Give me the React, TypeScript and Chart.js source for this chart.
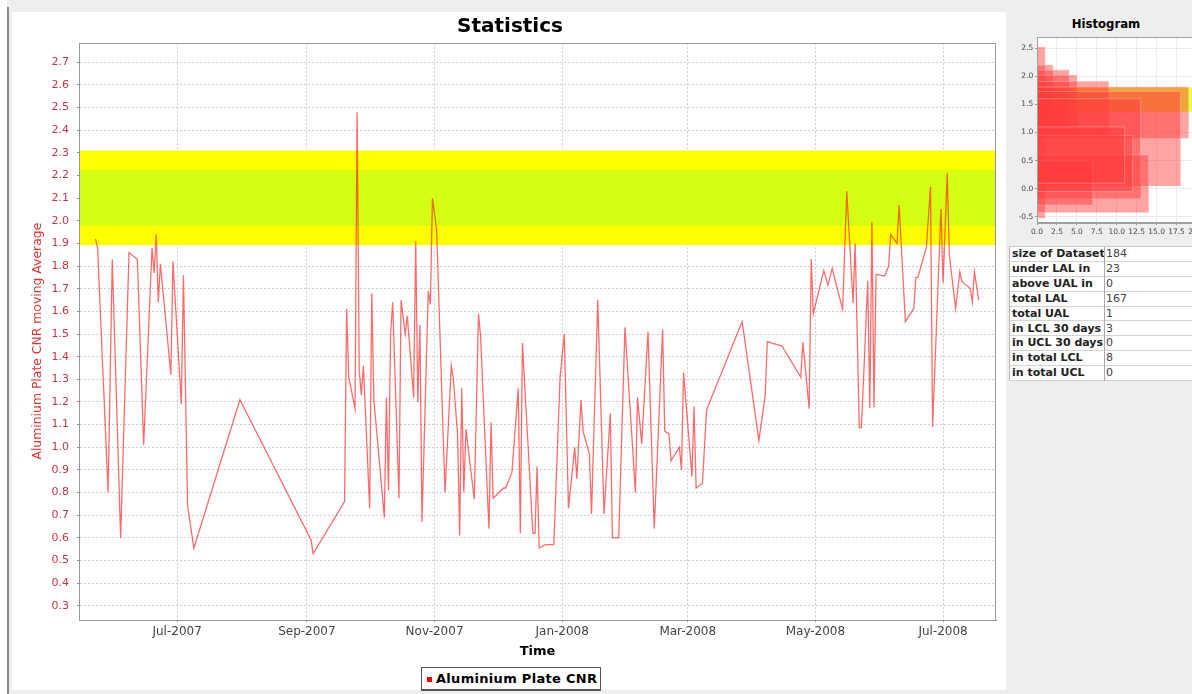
import React, { useEffect, useRef } from "react";
import { Chart, registerables } from "chart.js";
Chart.register(...registerables);

const FONT = "DejaVu Sans";

// ---- main series ----
const DATES = [
  "2007-05-23", "2007-05-24", "2007-05-29", "2007-05-31", "2007-06-04", "2007-06-08", "2007-06-12", "2007-06-15",
  "2007-06-19", "2007-06-20", "2007-06-21", "2007-06-22", "2007-06-23", "2007-06-28", "2007-06-29", "2007-07-03",
  "2007-07-04", "2007-07-06", "2007-07-09", "2007-07-31", "2007-09-03", "2007-09-04", "2007-09-19", "2007-09-20",
  "2007-09-21", "2007-09-24", "2007-09-25", "2007-09-26", "2007-09-27", "2007-09-28", "2007-10-01", "2007-10-02",
  "2007-10-03", "2007-10-08", "2007-10-09", "2007-10-10", "2007-10-11", "2007-10-12", "2007-10-15", "2007-10-16",
  "2007-10-18", "2007-10-19", "2007-10-22", "2007-10-23", "2007-10-24", "2007-10-25", "2007-10-26", "2007-10-29",
  "2007-10-30", "2007-10-31", "2007-11-02", "2007-11-06", "2007-11-09", "2007-11-10", "2007-11-12", "2007-11-13",
  "2007-11-14", "2007-11-15", "2007-11-16", "2007-11-20", "2007-11-22", "2007-11-23", "2007-11-27", "2007-11-28",
  "2007-11-29", "2007-12-04", "2007-12-05", "2007-12-08", "2007-12-11", "2007-12-12", "2007-12-13", "2007-12-18",
  "2007-12-19", "2007-12-20", "2007-12-21", "2007-12-24", "2007-12-28", "2007-12-31", "2008-01-02", "2008-01-04",
  "2008-01-07", "2008-01-08", "2008-01-10", "2008-01-11", "2008-01-14", "2008-01-15", "2008-01-18", "2008-01-21",
  "2008-01-24", "2008-01-25", "2008-01-28", "2008-01-31", "2008-02-05", "2008-02-06", "2008-02-08", "2008-02-11",
  "2008-02-14", "2008-02-18", "2008-02-19", "2008-02-21", "2008-02-22", "2008-02-26", "2008-02-27", "2008-02-28",
  "2008-03-03", "2008-03-04", "2008-03-05", "2008-03-08", "2008-03-10", "2008-03-27", "2008-04-04", "2008-04-07",
  "2008-04-08", "2008-04-15", "2008-04-24", "2008-04-25", "2008-04-28", "2008-04-29", "2008-04-30", "2008-05-05",
  "2008-05-07", "2008-05-09", "2008-05-14", "2008-05-16", "2008-05-19", "2008-05-20", "2008-05-22", "2008-05-23",
  "2008-05-26", "2008-05-27", "2008-05-28", "2008-05-29", "2008-05-30", "2008-06-03", "2008-06-05", "2008-06-06",
  "2008-06-09", "2008-06-10", "2008-06-13", "2008-06-17", "2008-06-18", "2008-06-19", "2008-06-23", "2008-06-25",
  "2008-06-26", "2008-06-30", "2008-07-01", "2008-07-03", "2008-07-04", "2008-07-07", "2008-07-09", "2008-07-10",
  "2008-07-14", "2008-07-15", "2008-07-16", "2008-07-18",
];

const VALUES = [
  1.92, 1.88, 0.80, 1.83, 0.60, 1.86, 1.83, 1.01,
  1.88, 1.77, 1.94, 1.64, 1.81, 1.32, 1.82, 1.19,
  1.76, 0.74, 0.555, 1.21, 0.59, 0.53, 0.76, 1.61,
  1.31, 1.17, 2.48, 1.34, 1.23, 1.36, 0.73, 1.68,
  1.21, 0.69, 1.22, 0.81, 1.50, 1.64, 0.775, 1.65,
  1.50, 1.58, 1.22, 1.91, 1.20, 1.54, 0.67, 1.69,
  1.63, 2.10, 1.96, 0.80, 1.36, 1.30, 1.06, 0.61,
  1.26, 0.80, 1.08, 0.77, 1.59, 1.49, 0.64, 1.11,
  0.775, 0.82, 0.82, 0.89, 1.26, 0.62, 1.46, 0.62,
  0.62, 0.915, 0.555, 0.57, 0.57, 1.31, 1.50, 0.73,
  1.00, 0.86, 1.21, 1.07, 0.97, 0.705, 1.65, 0.705,
  1.15, 0.60, 0.60, 1.53, 0.80, 1.22, 1.015, 1.51,
  0.64, 1.52, 1.07, 1.06, 0.94, 1.00, 0.90, 1.33,
  0.87, 1.18, 0.82, 0.84, 1.165, 1.555, 1.03, 1.23,
  1.466, 1.447, 1.31, 1.464, 1.17, 1.83, 1.59, 1.78,
  1.716, 1.79, 1.61, 2.13, 1.636, 1.90, 1.087, 1.087,
  1.735, 1.172, 1.994, 1.177, 1.764, 1.756, 1.80, 1.94,
  1.90, 2.07, 1.555, 1.613, 1.75, 1.75, 1.883, 2.15,
  1.089, 2.052, 1.726, 2.212, 1.849, 1.612, 1.775, 1.731,
  1.702, 1.643, 1.775, 1.65,
];

const SERIES_LABEL = "Aluminium Plate CNR";
const Y_TITLE = "Aluminium Plate CNR moving Average";
const X_RANGE = ["2007-05-15", "2008-07-26"];
const X_TICK_DATES = ["2007-07-01", "2007-09-01", "2007-11-01", "2008-01-01", "2008-03-01", "2008-05-01", "2008-07-01"];
const MONTHS = ["Jan", "Feb", "Mar", "Apr", "May", "Jun", "Jul", "Aug", "Sep", "Oct", "Nov", "Dec"];
const Y_RANGE = [0.237, 2.784];
const Y_TICKS = [0.3, 0.4, 0.5, 0.6, 0.7, 0.8, 0.9, 1.0, 1.1, 1.2, 1.3, 1.4, 1.5, 1.6, 1.7, 1.8, 1.9, 2.0, 2.1, 2.2, 2.3, 2.4, 2.5, 2.6, 2.7];
const OUTER_BAND = [1.893, 2.31];
const INNER_BAND = [1.977, 2.224];

// ---- histogram ----
const HIST_LOW = [1.37, -0.52, 1.22, 1.1, 1.0, 0.91, 0.9, 0.05, -0.17, -0.42, -0.29, -0.05, 0.1];
const HIST_HIGH = [1.8, 2.52, 2.2, 2.11, 2.02, 1.91, 1.81, 1.73, 1.6, 0.6, 0.5, 0.95, 1.1];
const HIST_COUNT = [22, 1, 2, 4, 5, 9, 19, 18, 13, 14, 7, 12, 11];
const HIST_X_RANGE = [0, 20.5];
const HIST_Y_RANGE = [-0.61, 2.695];
const HIST_X_TICKS = [0, 2.5, 5, 7.5, 10, 12.5, 15, 17.5, 20];
const HIST_Y_TICKS = [-0.5, 0, 0.5, 1.0, 1.5, 2.0, 2.5];

// ---- statistics table ----
const TABLE_LABELS = ["size of Dataset", "under LAL in", "above UAL in", "total LAL", "total UAL", "in LCL 30 days", "in UCL 30 days", "in total LCL", "in total UCL"];
const TABLE_VALUES = ["184", "23", "0", "167", "1", "3", "0", "8", "0"];

const EPOCH = Date.UTC(2007, 6, 1);
const dayOf = (s: string) => {
  const [y, m, d] = s.split("-").map(Number);
  return (Date.UTC(y, m - 1, d) - EPOCH) / 86400000;
};
const monthLabel = (day: number) => {
  const dt = new Date(EPOCH + day * 86400000);
  return `${MONTHS[dt.getUTCMonth()]}-${dt.getUTCFullYear()}`;
};

const mainPlugin = {
  id: "bandsOutline",
  beforeDatasetsDraw(chart: any) {
    const { ctx, chartArea: a, scales } = chart;
    const y = scales.y;
    ctx.save();
    const band = (lo: number, hi: number, col: string) => {
      const t = y.getPixelForValue(hi);
      const b = y.getPixelForValue(lo);
      ctx.fillStyle = col;
      ctx.fillRect(a.left, t, a.right - a.left, b - t);
    };
    band(OUTER_BAND[0], OUTER_BAND[1], "#ffff00");
    band(INNER_BAND[0], INNER_BAND[1], "#d4ff14");
    ctx.restore();
  },
  afterDraw(chart: any) {
    const { ctx, chartArea: a } = chart;
    ctx.save();
    ctx.strokeStyle = "#9a9a9a";
    ctx.lineWidth = 1;
    ctx.strokeRect(Math.round(a.left) + 0.5, Math.round(a.top) + 0.5, Math.round(a.right - a.left) - 1, Math.round(a.bottom - a.top));
    // y-axis title
    ctx.translate(28, (a.top + a.bottom) / 2 + 9.5);
    ctx.rotate(-Math.PI / 2);
    ctx.fillStyle = "#e03535";
    ctx.font = `12.4px ${FONT}`;
    ctx.textAlign = "center";
    ctx.textBaseline = "middle";
    ctx.fillText(Y_TITLE, 0, 0);
    ctx.restore();
  },
};

const histPlugin = {
  id: "histRects",
  beforeDraw(chart: any) {
    const { ctx, chartArea: a } = chart;
    ctx.save();
    ctx.fillStyle = "#ffffff";
    ctx.fillRect(a.left, a.top, a.right - a.left, a.bottom - a.top);
    ctx.restore();
  },
  beforeDatasetsDraw(chart: any) {
    const { ctx, chartArea: a, scales } = chart;
    const x = scales.x;
    const y = scales.y;
    ctx.save();
    ctx.beginPath();
    ctx.rect(a.left, a.top, a.right - a.left, a.bottom - a.top);
    ctx.clip();
    HIST_COUNT.forEach((c, i) => {
      const x0 = x.getPixelForValue(0);
      const x1 = x.getPixelForValue(c);
      const t = y.getPixelForValue(HIST_HIGH[i]);
      const b = y.getPixelForValue(HIST_LOW[i]);
      ctx.fillStyle = i === 0 ? "rgba(225,255,40,0.9)" : "rgba(255,60,60,0.47)";
      ctx.fillRect(x0, t, x1 - x0, b - t);
      if (i > 0) {
        ctx.strokeStyle = "rgba(255,190,190,0.5)";
        ctx.lineWidth = 0.8;
        ctx.strokeRect(x0, t, x1 - x0, b - t);
      }
    });
    ctx.restore();
  },
  afterDraw(chart: any) {
    const { ctx, chartArea: a } = chart;
    ctx.save();
    ctx.strokeStyle = "#a0a0a0";
    ctx.lineWidth = 1;
    ctx.strokeRect(Math.round(a.left) + 0.5, Math.round(a.top) + 0.5, Math.round(a.right - a.left), Math.round(a.bottom - a.top) - 1);
    ctx.restore();
  },
};

function MainChart() {
  const ref = useRef<HTMLCanvasElement>(null);
  useEffect(() => {
    if (!ref.current) return;
    const chart = new Chart(ref.current, {
      type: "line",
      data: {
        datasets: [
          {
            label: SERIES_LABEL,
            data: DATES.map((d, i) => ({ x: dayOf(d), y: VALUES[i] })),
            borderColor: "rgba(255,0,0,0.58)",
            borderWidth: 1.3,
            pointRadius: 0,
            tension: 0,
            fill: false,
          },
        ],
      },
      options: {
        animation: false,
        responsive: false,
        maintainAspectRatio: false,
        events: [],
        layout: { padding: { left: 14, right: 10, top: 0, bottom: 22 } },
        plugins: {
          legend: { display: false },
          tooltip: { enabled: false },
          title: {
            display: true,
            text: "Statistics",
            color: "#000",
            font: { family: FONT, size: 20, weight: "bold" },
            padding: { top: 3, bottom: 4.3 },
          },
        },
        scales: {
          x: {
            type: "linear",
            min: dayOf(X_RANGE[0]) + 0.1,
            max: dayOf(X_RANGE[1]) + 0.3,
            afterBuildTicks: (s: any) => {
              s.ticks = X_TICK_DATES.map((d) => ({ value: dayOf(d) }));
            },
            afterFit: (s: any) => {
              s.height = 48;
            },
            ticks: {
              autoSkip: false,
              maxRotation: 0,
              color: "#444",
              padding: 2.5,
              font: { family: FONT, size: 12 },
              callback: (v: any) => monthLabel(Number(v)),
            },
            grid: { color: "#cfcfcf", lineWidth: 1, tickLength: 2, tickColor: "#888" },
            border: { color: "#888", width: 1, dash: [2, 2] },
            title: {
              display: true,
              text: "Time",
              color: "#000",
              font: { family: FONT, size: 13, weight: "bold" },
              padding: { top: 0, bottom: 9 },
            },
          },
          y: {
            type: "linear",
            min: Y_RANGE[0],
            max: Y_RANGE[1],
            afterBuildTicks: (s: any) => {
              s.ticks = Y_TICKS.map((v) => ({ value: v }));
            },
            afterFit: (s: any) => {
              s.width = 55;
            },
            ticks: {
              color: "#cc3344",
              padding: 8,
              font: { family: FONT, size: 11 },
              callback: (v: any) => Number(v).toFixed(1),
            },
            grid: { color: "#cfcfcf", lineWidth: 1, tickLength: 2, tickColor: "#888" },
            border: { color: "#888", width: 1, dash: [2, 2] },
          },
        },
      } as any,
      plugins: [mainPlugin],
    });
    return () => chart.destroy();
  }, []);
  return <canvas ref={ref} width={996} height={678} style={{ position: "absolute", left: 10, top: 12, width: 996, height: 678 }} />;
}

function HistChart() {
  const ref = useRef<HTMLCanvasElement>(null);
  useEffect(() => {
    if (!ref.current) return;
    const chart = new Chart(ref.current, {
      type: "scatter",
      data: { datasets: [{ data: [] }] },
      options: {
        animation: false,
        responsive: false,
        maintainAspectRatio: false,
        events: [],
        layout: { padding: { left: 0, right: 7, top: 7.3, bottom: 0 } },
        plugins: { legend: { display: false }, tooltip: { enabled: false } },
        scales: {
          x: {
            type: "linear",
            min: HIST_X_RANGE[0],
            max: HIST_X_RANGE[1],
            afterBuildTicks: (s: any) => {
              s.ticks = HIST_X_TICKS.map((v) => ({ value: v }));
            },
            afterFit: (s: any) => {
              s.height = 17;
            },
            ticks: {
              autoSkip: false,
              maxRotation: 0,
              color: "#444",
              padding: 3,
              font: { family: FONT, size: 7.5 },
              callback: (v: any) => Number(v).toFixed(1),
            },
            grid: { color: "#ebebeb", tickLength: 2, tickColor: "#999" },
            border: { color: "#a0a0a0" },
          },
          y: {
            type: "linear",
            min: HIST_Y_RANGE[0],
            max: HIST_Y_RANGE[1],
            afterBuildTicks: (s: any) => {
              s.ticks = HIST_Y_TICKS.map((v) => ({ value: v }));
            },
            afterFit: (s: any) => {
              s.width = 29;
            },
            ticks: {
              color: "#444",
              padding: 1.7,
              font: { family: FONT, size: 7.5 },
              callback: (v: any) => Number(v).toFixed(1),
            },
            grid: { color: "#ebebeb", tickLength: 2, tickColor: "#999" },
            border: { color: "#a0a0a0" },
          },
        },
      } as any,
      plugins: [histPlugin],
    });
    return () => chart.destroy();
  }, []);
  return <canvas ref={ref} width={200} height={210} style={{ position: "absolute", left: 0, top: 0, width: 200, height: 210 }} />;
}

export default function App() {
  const rowH = 14.9;
  return (
    <div
      style={{
        position: "fixed",
        left: 0,
        top: 0,
        width: 1192,
        height: 694,
        background: "#eeeeee",
        overflow: "hidden",
        fontFamily: FONT,
      }}
    >
      <div style={{ position: "absolute", left: 0, top: 0, width: 7, height: 694, background: "#ffffff" }} />
      <div style={{ position: "absolute", left: 7, top: 7, width: 1.5, height: 687, background: "#8a8a8a" }} />
      <div style={{ position: "absolute", left: 12, top: 12, width: 994, height: 678, background: "#ffffff" }} />
      <MainChart />
      <div
        style={{
          position: "absolute",
          left: 421,
          top: 667,
          width: 178,
          height: 21,
          border: "1px solid #555",
          borderBottomWidth: 2,
          background: "#fff",
        }}
      >
        <div style={{ position: "absolute", left: 5, top: 9, width: 5, height: 5, background: "#ff0000" }} />
        <div
          style={{
            position: "absolute",
            left: 14,
            top: 3,
            fontSize: 13,
            fontWeight: "bold",
            lineHeight: "15px",
            letterSpacing: "0.3px",
            color: "#000",
            whiteSpace: "nowrap",
          }}
        >
          {SERIES_LABEL}
        </div>
      </div>

      <div
        style={{
          position: "absolute",
          left: 1006,
          top: 16,
          width: 200,
          textAlign: "center",
          fontFamily: "'DejaVu Sans Condensed', 'Liberation Sans Narrow', 'DejaVu Sans'",
          fontWeight: "bold",
          fontSize: 13,
          lineHeight: "16px",
          color: "#000",
        }}
      >
        Histogram
      </div>
      <div style={{ position: "absolute", left: 1008, top: 30, width: 184, height: 210, overflow: "hidden" }}>
        <HistChart />
      </div>

      <div
        style={{
          position: "absolute",
          left: 1009,
          top: 246,
          width: 200,
          height: rowH * TABLE_LABELS.length,
          background: "#fff",
          borderLeft: "1px solid #b8b8b8",
          borderTop: "1px solid #c8c8c8",
        }}
      >
        {TABLE_LABELS.map((lab, i) => (
          <div
            key={lab}
            style={{
              position: "absolute",
              left: 0,
              top: i * rowH,
              width: 200,
              height: rowH,
              borderBottom: "1px solid #d4d4d4",
              boxSizing: "border-box",
              fontSize: 11,
              lineHeight: `${rowH - 1}px`,
              whiteSpace: "nowrap",
            }}
          >
            <span style={{ position: "absolute", left: 2, top: 0, fontWeight: "bold", color: "#222" }}>{lab}</span>
            <span style={{ position: "absolute", left: 96, top: 0, color: "#444" }}>{TABLE_VALUES[i]}</span>
          </div>
        ))}
        <div style={{ position: "absolute", left: 94, top: 0, width: 1, height: rowH * TABLE_LABELS.length, background: "#a8a8b8" }} />
      </div>
    </div>
  );
}
